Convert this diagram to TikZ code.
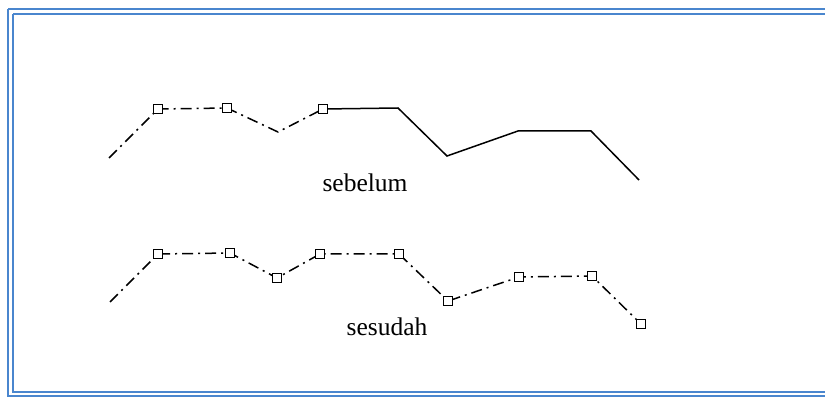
\documentclass[tikz,border=0pt]{standalone}
\usepackage{fontspec}
\setmainfont{Liberation Serif}
\begin{document}
\begin{tikzpicture}[x=1pt,y=-1pt,
  sq/.style={draw,line width=1.1pt,minimum size=9pt,inner sep=0pt,fill=white},
  dd/.style={line width=1.5pt,dash pattern=on 11pt off 5pt on 2pt off 5pt},
  sol/.style={line width=1.5pt},
  lbl/.style={font=\fontsize{25.5pt}{28pt}\selectfont,inner sep=0pt,anchor=base}]
\definecolor{bordblue}{RGB}{74,134,206}
\useasboundingbox (0,0) rectangle (825,398);
% frame
\draw[bordblue,line width=2pt] (8,9) -- (830,9);
\draw[bordblue,line width=2pt] (8,9) -- (8,396) -- (830,396);
\draw[bordblue,line width=2pt] (13,14) -- (830,14);
\draw[bordblue,line width=2pt] (13,14) -- (13,392) -- (830,392);
% top line (sebelum)
\coordinate (a0) at (109,158);
\coordinate (a3) at (278,132);
\coordinate (a5) at (398,108);
\coordinate (a6) at (447,156);
\coordinate (a7) at (518,131);
\coordinate (a8) at (591,131);
\coordinate (a9) at (639,180);
\node[sq] (a1) at (158,109) {};
\node[sq] (a2) at (227,108) {};
\node[sq] (a4) at (323,109) {};
\draw[dd] (a0) -- (a1.center) -- (a2.center) -- (a3) -- (a4.center);
\draw[sol] (a4.center) -- (a5) -- (a6) -- (a7) -- (a8) -- (a9);
\node[sq] at (a1) {};
\node[sq] at (a2) {};
\node[sq] at (a4) {};
\node[lbl] (t1) at (365,192) {sebelum};
% bottom line (sesudah)
\coordinate (b0) at (110,302);
\node[sq] (b1) at (158,254) {};
\node[sq] (b2) at (230,253) {};
\node[sq] (b3) at (277,278) {};
\node[sq] (b4) at (320,254) {};
\node[sq] (b5) at (399,254) {};
\node[sq] (b6) at (448,301) {};
\node[sq] (b7) at (519,277) {};
\node[sq] (b8) at (592,276) {};
\node[sq] (b9) at (641,324) {};
\draw[dd] (b0) -- (b1.center) -- (b2.center) -- (b3.center) -- (b4.center) -- (b5.center) -- (b6.center) -- (b7.center) -- (b8.center) -- (b9.center);
\foreach \n in {b1,b2,b3,b4,b5,b6,b7,b8,b9} \node[sq] at (\n) {};
\node[lbl] (t2) at (387,335) {sesudah};
\end{tikzpicture}
\end{document}
